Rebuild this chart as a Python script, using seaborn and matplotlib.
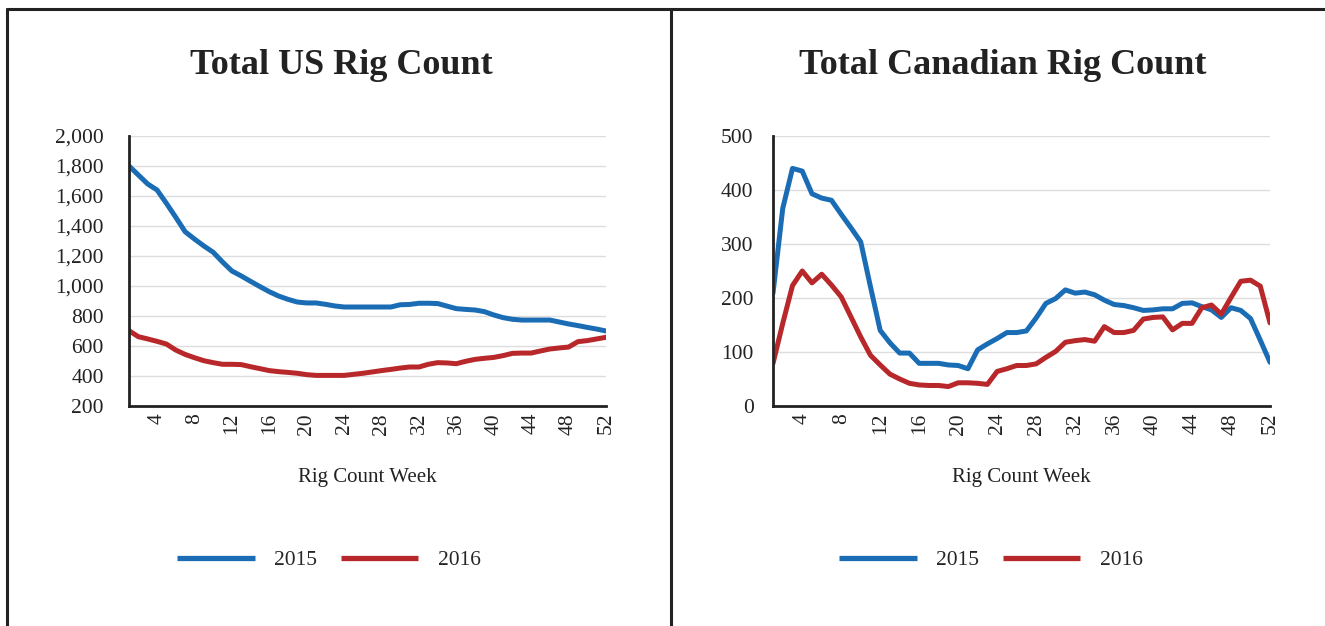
import numpy as np
import pandas as pd
import matplotlib
matplotlib.use("Agg")
import matplotlib.pyplot as plt
from matplotlib.lines import Line2D
import seaborn as sns

weeks = list(range(1, 53))

us_2015 = [1800, 1740, 1680, 1640, 1551, 1458, 1362, 1313, 1267, 1225,
           1160, 1100, 1067, 1031, 996, 962, 933, 911, 893, 887,
           887, 878, 867, 860, 860, 860, 860, 860, 860, 875,
           877, 885, 885, 883, 866, 849, 844, 840, 829, 807,
           789, 778, 773, 773, 773, 773, 760, 747, 736, 724,
           713, 700]
us_2016 = [702, 662, 647, 631, 613, 573, 544, 522, 502, 489,
           478, 478, 476, 462, 449, 436, 429, 424, 418, 409,
           404, 404, 404, 404, 411, 418, 427, 436, 444, 453,
           460, 460, 478, 489, 487, 482, 498, 511, 518, 524,
           536, 551, 553, 553, 567, 580, 587, 593, 629, 636,
           647, 658]

ca_2015 = [209, 366, 440, 435, 393, 385, 381, 355, 330, 304,
           221, 140, 117, 98, 98, 79, 79, 79, 76, 75,
           69, 104, 115, 125, 136, 136, 139, 163, 190, 199,
           215, 209, 211, 206, 196, 188, 186, 182, 177, 178,
           180, 180, 190, 191, 184, 178, 164, 182, 177, 162,
           122, 81]
ca_2016 = [79, 153, 223, 250, 228, 244, 224, 202, 165, 128,
           94, 76, 59, 50, 42, 39, 38, 38, 36, 43,
           43, 42, 40, 64, 69, 75, 75, 78, 90, 101,
           118, 121, 123, 120, 147, 136, 136, 140, 161, 164,
           165, 141, 153, 153, 182, 187, 170, 201, 231, 233,
           222, 154]

years = ["2015", "2016"]
colors = {"2015": "#1a6db4", "2016": "#b8282a"}
xticks = list(range(4, 53, 4))
us_yticks = list(range(200, 2001, 200))
ca_yticks = list(range(0, 501, 100))
titles = ["Total US Rig Count", "Total Canadian Rig Count"]
xlabel = "Rig Count Week"


def long_df(a, b):
    return pd.DataFrame({
        "week": weeks * 2,
        "count": a + b,
        "year": [years[0]] * len(weeks) + [years[1]] * len(weeks),
    })


sns.set_theme(style="white")
plt.rcParams["font.family"] = ["Liberation Serif", "DejaVu Serif"]

fig = plt.figure(figsize=(13.25, 6.26), dpi=100)

# Panel frame lines
frame_color = "#222222"
fig.add_artist(Line2D([7 / 1325, 1], [1 - 9 / 626, 1 - 9 / 626], color=frame_color, lw=2.2,
                      transform=fig.transFigure))
fig.add_artist(Line2D([7 / 1325, 7 / 1325], [0, 1 - 9 / 626], color=frame_color, lw=2.2,
                      transform=fig.transFigure))
fig.add_artist(Line2D([671 / 1325, 671 / 1325], [0, 1 - 9 / 626], color=frame_color, lw=2.2,
                      transform=fig.transFigure))

specs = [
    dict(rect=[129 / 1325, 1 - 406 / 626, 477 / 1325, 270 / 626],
         df=long_df(us_2015, us_2016), yticks=us_yticks, ylim=(200, 2000),
         fmt=lambda v: f"{v:,}", center=341 / 1325, ypad=18, legx=329 / 1325),
    dict(rect=[773 / 1325, 1 - 406 / 626, 497 / 1325, 270 / 626],
         df=long_df(ca_2015, ca_2016), yticks=ca_yticks, ylim=(0, 500),
         fmt=lambda v: f"{v}", center=1003 / 1325, ypad=14, legx=991 / 1325),
]

for i, s in enumerate(specs):
    ax = fig.add_axes(s["rect"])
    sns.lineplot(data=s["df"], x="week", y="count", hue="year", palette=colors,
                 linewidth=3.6, ax=ax, legend=False)
    ax.set_xlim(1, 52)
    ax.set_ylim(*s["ylim"])
    ax.set_yticks(s["yticks"])
    ax.set_yticklabels([s["fmt"](v) for v in s["yticks"]])
    ax.set_xticks(xticks)
    ax.set_xticklabels([str(v) for v in xticks], rotation=90)
    ax.tick_params(axis="both", length=0, labelsize=15.5, colors="#222222")
    ax.tick_params(axis="y", pad=s["ypad"])
    ax.tick_params(axis="x", pad=5)
    ax.grid(axis="y", color="#dddddd", linewidth=1)
    ax.set_axisbelow(True)
    for side in ["top", "right"]:
        ax.spines[side].set_visible(False)
    for side in ["left", "bottom"]:
        ax.spines[side].set_color("#222222")
        ax.spines[side].set_linewidth(2)
    ax.set_ylabel("")
    ax.set_xlabel(xlabel, fontsize=15, color="#222222", labelpad=24)

    fig.text(s["center"], 1 - 65 / 626, titles[i], ha="center", va="center",
             fontsize=26, fontweight="bold", color="#222222")

    handles = [Line2D([0], [0], color=colors[y], lw=3.8, solid_capstyle="butt") for y in years]
    fig.legend(handles, years, loc="center", bbox_to_anchor=(s["legx"], 1 - 560 / 626),
               ncol=2, frameon=False, fontsize=15.5, handlelength=3.6, handletextpad=0.9,
               columnspacing=1.1)

fig.savefig("out.png", dpi=100, facecolor="white")
